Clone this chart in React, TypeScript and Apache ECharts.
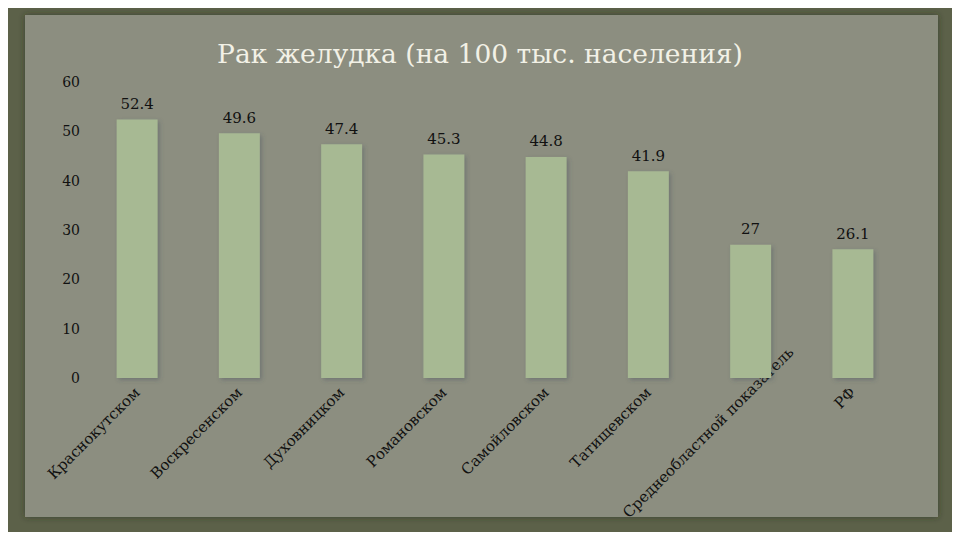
import React, { useEffect, useRef } from "react";
import * as echarts from "echarts";

const categories = [
  "Краснокутском",
  "Воскресенском",
  "Духовницком",
  "Романовском",
  "Самойловском",
  "Татищевском",
  "Среднеобластной показатель",
  "РФ",
];
const values = [52.4, 49.6, 47.4, 45.3, 44.8, 41.9, 27, 26.1];
const title = "Рак желудка (на 100 тыс. населения)";
const yMin = 0;
const yMax = 60;
const yStep = 10;

const SERIF = "'DejaVu Serif', 'Liberation Serif', serif";

export default function App() {
  const ref = useRef<HTMLDivElement>(null);
  useEffect(() => {
    if (!ref.current) return;
    const chart = echarts.init(ref.current, null, { renderer: "svg" });
    const catData = categories.map((c) =>
      c === "Среднеобластной показатель"
        ? { value: c, textStyle: { align: "center", padding: [0, 120, 0, 0] } }
        : c
    );
    chart.setOption({
      animation: false,
      backgroundColor: "#5c6149",
      graphic: [
        {
          type: "rect",
          shape: { x: 25, y: 15, width: 913, height: 502 },
          style: {
            fill: "#8c8e80",
            shadowBlur: 6,
            shadowColor: "rgba(40,45,30,0.6)",
          },
          z: -10,
        },
        {
          type: "text",
          left: "center",
          top: 40,
          style: {
            text: title,
            fill: "#f2f1e6",
            font: `26.5px ${SERIF}`,
          },
        },
      ],
      grid: { left: 86, right: 56, top: 82, bottom: 162, containLabel: false },
      xAxis: {
        type: "category",
        data: catData,
        axisLine: { show: false },
        axisTick: { show: false },
        axisLabel: {
          rotate: 45,
          interval: 0,
          margin: 12,
          color: "#111",
          fontSize: 15,
          fontFamily: SERIF,
        },
      },
      yAxis: {
        type: "value",
        min: yMin,
        max: yMax,
        interval: yStep,
        splitLine: { show: false },
        axisLine: { show: false },
        axisTick: { show: false },
        axisLabel: {
          margin: 6,
          color: "#111",
          fontSize: 14,
          fontFamily: SERIF,
        },
      },
      series: [
        {
          type: "bar",
          data: values,
          barWidth: "40%",
          itemStyle: {
            color: "#a7b993",
            shadowColor: "rgba(60,70,90,0.35)",
            shadowBlur: 4,
            shadowOffsetX: 2,
            shadowOffsetY: 2,
          },
          label: {
            show: true,
            position: "top",
            distance: 8,
            color: "#111",
            fontSize: 15,
            fontFamily: SERIF,
          },
        },
      ],
    });
    return () => chart.dispose();
  }, []);
  return <div ref={ref} style={{ width: 960, height: 540, margin: -8 }} />;
}
